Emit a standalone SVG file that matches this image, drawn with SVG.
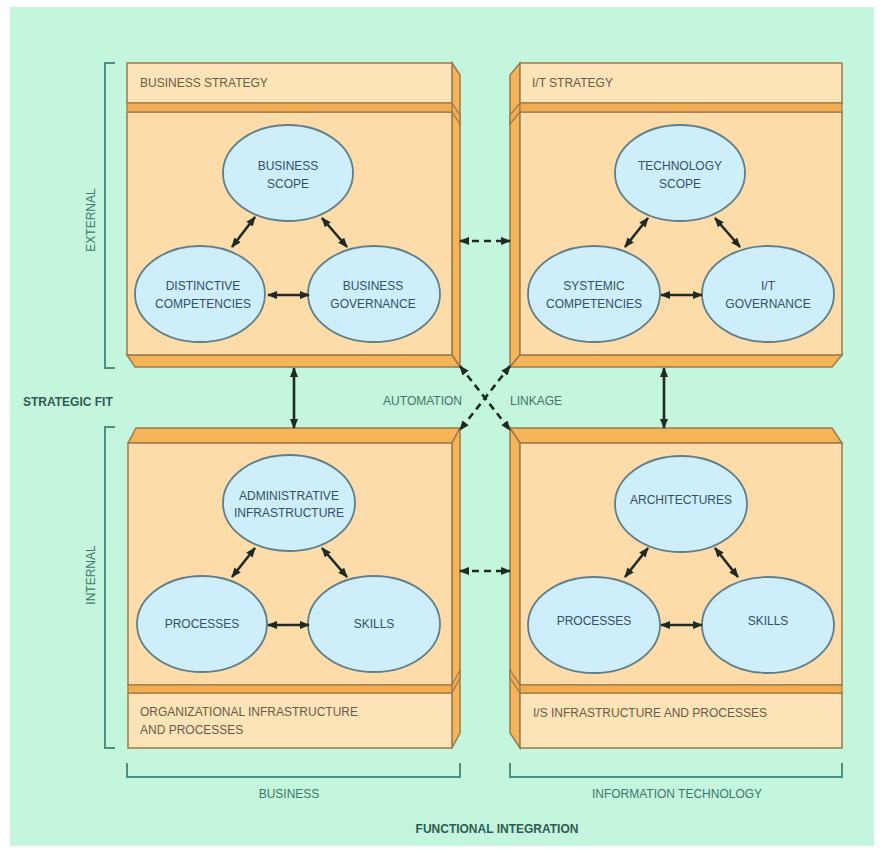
<svg xmlns="http://www.w3.org/2000/svg" width="883" height="851" viewBox="0 0 883 851">
<style>
.front{fill:#fddcaa;stroke:#9a7a4c;stroke-width:1.5}
.band{fill:#fde3b8;stroke:#9a7a4c;stroke-width:1.5}
.strip{fill:#f2ad52;stroke:#9a7a4c;stroke-width:1.2}
.side{fill:#f6b459;stroke:#9a7a4c;stroke-width:1.5}
.ell{fill:#cdeefa;stroke:#5f7f8a;stroke-width:1.8}
.et{font-family:"Liberation Sans",Arial,sans-serif;font-size:12px;fill:#33506b;text-anchor:middle}
.bt{font-family:"Liberation Sans",Arial,sans-serif;font-size:12px;fill:#6b5c44}
.lab{font-family:"Liberation Sans",Arial,sans-serif;font-size:12px;fill:#3f7668}
.bold{font-family:"Liberation Sans",Arial,sans-serif;font-size:12px;font-weight:bold;fill:#2f5c52}
.brk{fill:none;stroke:#4d8f80;stroke-width:2}
.con{stroke:#1e2a22;stroke-width:2.6;fill:none;marker-start:url(#ah);marker-end:url(#ah)}
.dash{stroke:#1e2a22;stroke-width:2.6;fill:none;stroke-dasharray:7 5;marker-start:url(#ah);marker-end:url(#ah)}
</style>
<defs>
<marker id="ah" viewBox="0 0 10 8" refX="9" refY="4" markerUnits="userSpaceOnUse" markerWidth="10" markerHeight="8" orient="auto-start-reverse">
<path d="M0,0 L10,4 L0,8 z" fill="#1e2a22"/>
</marker>
</defs>
<rect x="0" y="0" width="883" height="851" fill="#ffffff"/>
<rect x="10" y="7" width="864" height="839" fill="#c3f6dd"/>

<g id="box-business-strategy">
<polygon class="side" points="452,63 460,75 460,367 452,355"/>
<polygon class="side" points="127,355 452,355 460,367 135,367"/>
<polygon class="strip" points="452,103 460,115 460,124 452,112"/>
<rect class="front" x="127" y="112" width="325" height="243"/>
<rect class="band" x="127" y="63" width="325" height="40"/>
<rect class="strip" x="127" y="103" width="325" height="9"/>
<text class="bt" x="140" y="87">BUSINESS STRATEGY</text>
</g>

<g id="box-it-strategy">
<polygon class="side" points="520,63 510,75 510,367 520,355"/>
<polygon class="side" points="520,355 842,355 832,367 510,367"/>
<polygon class="strip" points="520,103 510,115 510,124 520,112"/>
<rect class="front" x="520" y="112" width="322" height="243"/>
<rect class="band" x="520" y="63" width="322" height="40"/>
<rect class="strip" x="520" y="103" width="322" height="9"/>
<text class="bt" x="532" y="87">I/T STRATEGY</text>
</g>

<g id="box-org-infrastructure">
<polygon class="side" points="128,443 136,428 460,428 452,443"/>
<polygon class="side" points="452,443 460,428 460,733 452,748"/>
<polygon class="strip" points="452,685 460,670 460,678 452,693"/>
<rect class="front" x="128" y="443" width="324" height="242"/>
<rect class="band" x="128" y="693" width="324" height="55"/>
<rect class="strip" x="128" y="685" width="324" height="8"/>
<text class="bt" x="140" y="716">ORGANIZATIONAL INFRASTRUCTURE</text>
<text class="bt" x="140" y="734">AND PROCESSES</text>
</g>

<g id="box-is-infrastructure">
<polygon class="side" points="520,443 510,428 832,428 842,443"/>
<polygon class="side" points="520,443 510,428 510,733 520,748"/>
<polygon class="strip" points="520,685 510,670 510,678 520,693"/>
<rect class="front" x="520" y="443" width="322" height="242"/>
<rect class="band" x="520" y="693" width="322" height="55"/>
<rect class="strip" x="520" y="685" width="322" height="8"/>
<text class="bt" x="533" y="717">I/S INFRASTRUCTURE AND PROCESSES</text>
</g>

<g id="node-business-scope"><ellipse class="ell" cx="288" cy="173" rx="65" ry="48"/><text class="et" x="288" y="170">BUSINESS</text><text class="et" x="288" y="188">SCOPE</text></g>
<g id="node-distinctive-competencies"><ellipse class="ell" cx="200" cy="294" rx="65" ry="48"/><text class="et" x="203" y="290">DISTINCTIVE</text><text class="et" x="203" y="308">COMPETENCIES</text></g>
<g id="node-business-governance"><ellipse class="ell" cx="374" cy="294" rx="66" ry="48"/><text class="et" x="373" y="290">BUSINESS</text><text class="et" x="373" y="308">GOVERNANCE</text></g>

<g id="node-technology-scope"><ellipse class="ell" cx="680" cy="173" rx="65" ry="48"/><text class="et" x="680" y="170">TECHNOLOGY</text><text class="et" x="680" y="188">SCOPE</text></g>
<g id="node-systemic-competencies"><ellipse class="ell" cx="594" cy="294" rx="66" ry="48"/><text class="et" x="594" y="290">SYSTEMIC</text><text class="et" x="594" y="308">COMPETENCIES</text></g>
<g id="node-it-governance"><ellipse class="ell" cx="768" cy="294" rx="66" ry="48"/><text class="et" x="768" y="290">I/T</text><text class="et" x="768" y="308">GOVERNANCE</text></g>

<g id="node-administrative-infrastructure"><ellipse class="ell" cx="289" cy="503" rx="66" ry="48"/><text class="et" x="289" y="500">ADMINISTRATIVE</text><text class="et" x="289" y="517">INFRASTRUCTURE</text></g>
<g id="node-processes-business"><ellipse class="ell" cx="202" cy="624" rx="65" ry="48"/><text class="et" x="202" y="628">PROCESSES</text></g>
<g id="node-skills-business"><ellipse class="ell" cx="374" cy="624" rx="66" ry="48"/><text class="et" x="374" y="628">SKILLS</text></g>

<g id="node-architectures"><ellipse class="ell" cx="681" cy="504" rx="66" ry="48"/><text class="et" x="681" y="504">ARCHITECTURES</text></g>
<g id="node-processes-it"><ellipse class="ell" cx="594" cy="625" rx="66" ry="48"/><text class="et" x="594" y="625">PROCESSES</text></g>
<g id="node-skills-it"><ellipse class="ell" cx="768" cy="625" rx="66" ry="48"/><text class="et" x="768" y="625">SKILLS</text></g>

<g id="connectors">
<line class="con" x1="255" y1="217" x2="232" y2="247"/>
<line class="con" x1="322" y1="218" x2="347" y2="247"/>
<line class="con" x1="268" y1="295" x2="309" y2="295"/>
<line class="con" x1="648" y1="218" x2="625" y2="247"/>
<line class="con" x1="715" y1="218" x2="740" y2="247"/>
<line class="con" x1="661" y1="295" x2="702" y2="295"/>
<line class="con" x1="255" y1="548" x2="232" y2="577"/>
<line class="con" x1="322" y1="548" x2="347" y2="577"/>
<line class="con" x1="268" y1="625" x2="309" y2="625"/>
<line class="con" x1="648" y1="548" x2="625" y2="577"/>
<line class="con" x1="715" y1="548" x2="738" y2="577"/>
<line class="con" x1="661" y1="625" x2="702" y2="625"/>
<line class="con" x1="294" y1="368" x2="294" y2="428"/>
<line class="con" x1="664" y1="368" x2="664" y2="428"/>
<line class="dash" x1="460" y1="241" x2="510" y2="241"/>
<line class="dash" x1="460" y1="571" x2="510" y2="571"/>
<line class="dash" x1="460" y1="366" x2="510" y2="430"/>
<line class="dash" x1="510" y1="366" x2="460" y2="430"/>
</g>

<g id="brackets">
<path class="brk" d="M115,63 H105 V368 H115"/>
<path class="brk" d="M115,427 H105 V748 H115"/>
<path class="brk" d="M127,763 V777 H460 V763"/>
<path class="brk" d="M510,763 V777 H842 V763"/>
</g>

<g id="labels">
<text class="lab" transform="translate(95,220) rotate(-90)" text-anchor="middle" font-size="11">EXTERNAL</text>
<text class="lab" transform="translate(95,575) rotate(-90)" text-anchor="middle" font-size="11">INTERNAL</text>
<text class="bold" x="23" y="406">STRATEGIC FIT</text>
<text class="lab" x="462" y="405" text-anchor="end">AUTOMATION</text>
<text class="lab" x="510" y="405">LINKAGE</text>
<text class="lab" x="289" y="798" text-anchor="middle">BUSINESS</text>
<text class="lab" x="677" y="798" text-anchor="middle">INFORMATION TECHNOLOGY</text>
<text class="bold" x="497" y="833" text-anchor="middle">FUNCTIONAL INTEGRATION</text>
</g>
</svg>
